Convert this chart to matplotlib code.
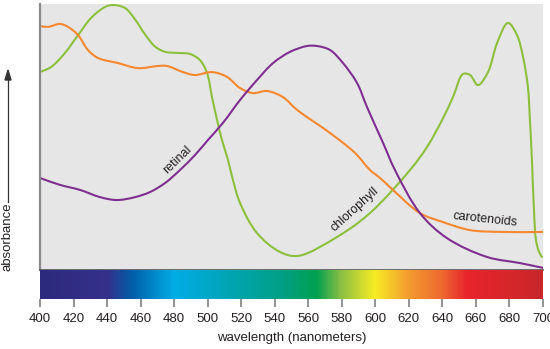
import matplotlib.pyplot as plt
import numpy as np
from matplotlib.colors import LinearSegmentedColormap
from matplotlib.path import Path
from matplotlib.patches import PathPatch

# absorbance curves (wavelength nm, relative absorbance)
chl_nm = [400.0, 406.6, 414.9, 422.7, 430.4, 438.8, 443.5, 450.7, 456.7, 462.6,
          468.6, 474.6, 482.3, 489.5, 495.4, 499.6, 502.6, 505.6, 508.5, 512.1,
          515.1, 519.3, 529.4, 543.1, 553.9, 577.1, 596.8, 620.7, 630.8, 640.4,
          646.3, 652.3, 656.5, 661.2, 667.2, 672.6, 679.1, 684.5, 688.1, 691.0,
          692.2, 693.4, 694.6, 695.8, 697.6, 699.4]
chl_abs = [0.744, 0.763, 0.816, 0.883, 0.947, 0.989, 0.996, 0.985, 0.942, 0.886,
           0.840, 0.820, 0.816, 0.812, 0.789, 0.741, 0.650, 0.564, 0.489, 0.414,
           0.338, 0.252, 0.139, 0.068, 0.053, 0.124, 0.214, 0.376, 0.462, 0.571,
           0.650, 0.737, 0.733, 0.695, 0.744, 0.853, 0.929, 0.883, 0.801, 0.688,
           0.564, 0.414, 0.226, 0.113, 0.068, 0.049]

car_nm = [400.0, 404.8, 411.9, 416.7, 422.7, 428.6, 434.6, 446.5, 458.4, 470.4,
          475.7, 485.3, 492.4, 502.6, 511.5, 519.3, 527.0, 535.4, 544.9, 553.3,
          573.0, 587.9, 596.8, 602.8, 610.5, 626.6, 640.4, 656.5, 676.1, 700.0]
car_abs = [0.917, 0.914, 0.925, 0.914, 0.883, 0.827, 0.797, 0.778, 0.759, 0.767,
           0.767, 0.744, 0.733, 0.744, 0.726, 0.684, 0.665, 0.673, 0.650, 0.602,
           0.515, 0.440, 0.376, 0.346, 0.301, 0.214, 0.180, 0.150, 0.143, 0.143]

ret_nm = [400.0, 411.9, 423.9, 435.8, 445.9, 456.7, 465.6, 474.6, 483.5, 492.4,
          500.2, 509.1, 519.3, 529.4, 539.0, 549.1, 559.2, 565.2, 573.0, 580.7,
          589.1, 595.0, 604.6, 611.7, 626.6, 642.7, 666.6, 686.3, 700.0]
ret_abs = [0.346, 0.320, 0.301, 0.274, 0.263, 0.274, 0.293, 0.327, 0.376, 0.432,
           0.489, 0.553, 0.639, 0.714, 0.778, 0.820, 0.842, 0.842, 0.827, 0.778,
           0.703, 0.613, 0.478, 0.376, 0.214, 0.120, 0.049, 0.026, 0.008]

# spectrum bar colour stops
spec_nm = [400, 440, 455, 470, 480, 500, 520, 545, 565, 580, 600, 620, 640, 655, 700]
spec_col = ['#2c2a7c', '#35318c', '#0060aa', '#0090d0', '#00aee6', '#00a8c8',
            '#00a4a8', '#00a084', '#00a050', '#8cc043', '#f8ec24', '#f39c2e',
            '#ee6a30', '#e8252c', '#c9272a']

ticks = list(range(400, 701, 20))


def smooth_path(xs, ys, sx, sy):
    # centripetal catmull-rom through the points, as cubic bezier segments
    p = np.column_stack([np.array(xs) * sx, np.array(ys) * sy])
    p = np.vstack([2 * p[0] - p[1], p, 2 * p[-1] - p[-2]])
    verts = [p[1]]
    codes = [Path.MOVETO]
    for i in range(1, len(p) - 2):
        p0, p1, p2, p3 = p[i - 1], p[i], p[i + 1], p[i + 2]
        d1 = np.hypot(*(p1 - p0)) ** 0.5 + 1e-9
        d2 = np.hypot(*(p2 - p1)) ** 0.5 + 1e-9
        d3 = np.hypot(*(p3 - p2)) ** 0.5 + 1e-9
        b1 = (d1**2 * p2 - d2**2 * p0 + (2*d1**2 + 3*d1*d2 + d2**2) * p1) / (3*d1*(d1 + d2))
        b2 = (d3**2 * p1 - d2**2 * p3 + (2*d3**2 + 3*d3*d2 + d2**2) * p2) / (3*d3*(d3 + d2))
        verts += [b1, b2, p2]
        codes += [Path.CURVE4] * 3
    v = np.array(verts) / [sx, sy]
    return Path(v, codes)


plt.rcParams['font.family'] = ['Liberation Sans', 'DejaVu Sans']
txt = '#231f20'

fig = plt.figure(figsize=(5.5, 3.49), dpi=100)
W, H = 550, 349
ax = fig.add_axes([40 / W, 1 - 270 / H, 503 / W, 266 / H])
bar = fig.add_axes([40 / W, 1 - 299 / H, 503 / W, 29 / H])

ax.set_facecolor('#e6e6e6')
sx, sy = 503 / 300, 266.0
for xs, ys, c in [(chl_nm, chl_abs, '#8cc03c'),
                  (car_nm, car_abs, '#f7882f'),
                  (ret_nm, ret_abs, '#7f2f8f')]:
    ax.add_patch(PathPatch(smooth_path(xs, ys, sx, sy), fill=False,
                           edgecolor=c, lw=1.5, capstyle='round',
                           joinstyle='round'))
ax.set_xlim(400, 700)
ax.set_ylim(0, 1.0)
ax.set_xticks([])
ax.set_yticks([])
for s in ['top', 'right']:
    ax.spines[s].set_visible(False)
ax.spines['left'].set_color('#8a8a8a')
ax.spines['left'].set_linewidth(1.6)
ax.spines['bottom'].set_color('#555555')
ax.spines['bottom'].set_linewidth(1.2)

ax.text(481.7, 0.414, 'retinal', rotation=44, ha='center', va='center',
        fontsize=9, color=txt)
ax.text(587.9, 0.226, 'chlorophyll', rotation=42, ha='center', va='center',
        fontsize=9, color=txt)
ax.text(665.4, 0.192, 'carotenoids', rotation=-6, ha='center', va='center',
        fontsize=9, color=txt)

# spectrum bar
cmap = LinearSegmentedColormap.from_list(
    'spec', [((n - 400) / 300, c) for n, c in zip(spec_nm, spec_col)])
bar.imshow(np.linspace(0, 1, 600)[None, :], cmap=cmap, aspect='auto',
           extent=[400, 700, 0, 1])
bar.set_xlim(400, 700)
bar.set_yticks([])
bar.set_xticks(ticks)
bar.tick_params(axis='x', length=6, width=1.1, color='#777777', pad=4,
                labelsize=9.5, labelcolor=txt)
for s in bar.spines.values():
    s.set_visible(False)
bar.set_xlabel('wavelength (nanometers)', fontsize=9.5, color=txt, labelpad=5)

# y-axis label with arrow
fig.text(8 / W, 1 - 237 / H, 'absorbance', rotation=90, ha='center',
         va='center', fontsize=9.5, color=txt)
fig.add_artist(plt.Line2D([8 / W, 8 / W], [1 - 202 / H, 1 - 80 / H],
                          color='#333333', lw=0.9))
fig.patches.append(plt.Polygon([[5 / W, 1 - 80 / H], [11 / W, 1 - 80 / H],
                                [8 / W, 1 - 70 / H]], closed=True,
                               transform=fig.transFigure, color='#333333'))

fig.savefig('out.png', dpi=100)
